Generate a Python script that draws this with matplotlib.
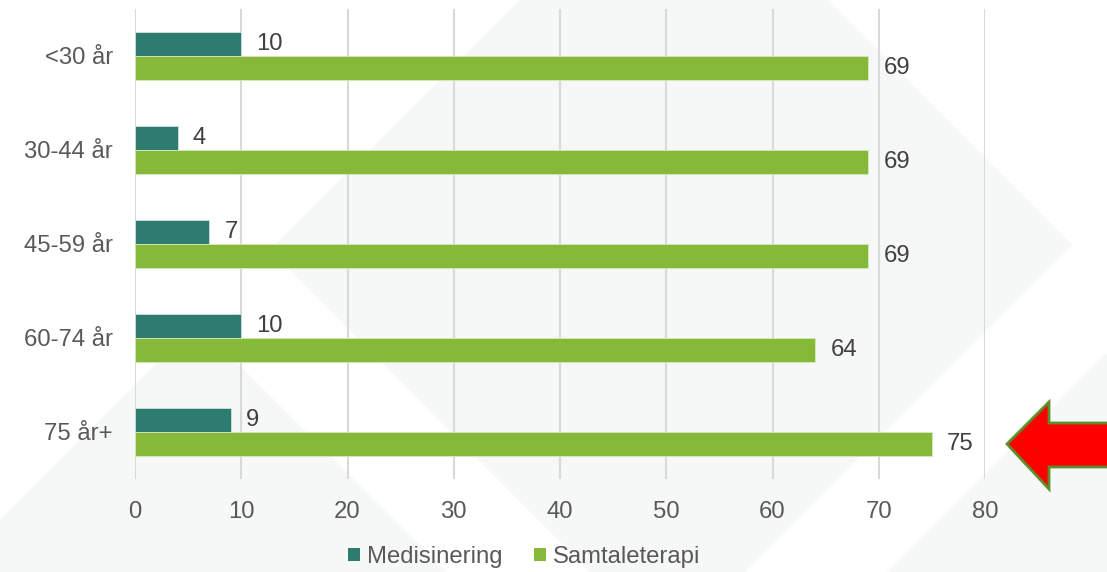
import matplotlib
matplotlib.use("Agg")
import matplotlib.pyplot as plt
import numpy as np
from matplotlib.patches import Polygon, Patch

# ---- data ----
categories = ["<30 år", "30-44 år", "45-59 år", "60-74 år", "75 år+"]
medisinering = [10, 4, 7, 10, 9]
samtaleterapi = [69, 69, 69, 64, 75]
series_names = ["Medisinering", "Samtaleterapi"]
x_ticks = [0, 10, 20, 30, 40, 50, 60, 70, 80]

# ---- style ----
W, H = 1107, 572
C_MED = "#2E7B6F"
C_SAM = "#86B939"
C_TXT = "#595959"
C_LBL = "#404040"
C_BG = "#F6F7F7"
FS = 17.2
plt.rcParams["font.family"] = ["Liberation Sans", "DejaVu Sans"]

fig = plt.figure(figsize=(W / 100, H / 100), dpi=100)
fig.patch.set_facecolor("white")


def px(points):
    return [(x / W, 1 - y / H) for x, y in points]


# background watermark shapes (figure pixel coords)
bg_shapes = [
    [(270, 250), (520, 0), (828, 0), (1072, 245), (745, 572), (590, 572)],
    [(0, 520), (197, 323), (447, 572), (0, 572)],
    [(1107, 352), (1107, 572), (887, 572)],
]
for s in bg_shapes:
    fig.patches.append(Polygon(px(s), closed=True, transform=fig.transFigure,
                               facecolor=C_BG, edgecolor="none", zorder=-10))

ax = fig.add_axes([135 / W, 1 - 479 / H, (985 - 135) / W, (479 - 9) / H])
ax.set_facecolor("none")
ax.set_zorder(1)

y = np.arange(len(categories))
h = 0.26
b1 = ax.barh(y - h / 2, medisinering, height=h, color=C_MED, edgecolor="#cfe3dc",
             linewidth=0.6, zorder=3)
b2 = ax.barh(y + h / 2, samtaleterapi, height=h, color=C_SAM, edgecolor="#d6eabb",
             linewidth=0.6, zorder=3)

for bars, vals in ((b1, medisinering), (b2, samtaleterapi)):
    for rect, v in zip(bars, vals):
        ax.annotate(str(v), xy=(v, rect.get_y() + rect.get_height() / 2),
                    xytext=(11, 0), textcoords="offset points",
                    ha="left", va="center", fontsize=FS, color=C_LBL, zorder=4)

ax.set_xlim(0, 80)
ax.set_ylim(len(categories) - 0.5, -0.5)
ax.set_xticks(x_ticks)
ax.set_yticks(y)
ax.set_yticklabels(categories)
ax.tick_params(axis="both", length=0, labelsize=FS, colors=C_TXT)
ax.tick_params(axis="x", pad=15.5)
ax.tick_params(axis="y", pad=16)
for sp in ax.spines.values():
    sp.set_visible(False)
ax.grid(axis="x", color="#D9D9D9", linewidth=1.5, zorder=1)
ax.set_axisbelow(True)

handles = [Patch(facecolor=C_MED, edgecolor="none"), Patch(facecolor=C_SAM, edgecolor="none")]
fig.legend(handles, series_names, loc="center", bbox_to_anchor=(0.4735, 1 - 557 / H),
           ncol=2, frameon=False, fontsize=FS, labelcolor=C_TXT,
           handlelength=0.5, handleheight=0.5, handletextpad=0.3, columnspacing=1.3)

# red arrow
arrow = [(1007, 444), (1049, 402), (1049, 423), (1110, 423), (1110, 467),
         (1049, 467), (1049, 489)]
fig.patches.append(Polygon(px(arrow), closed=True, transform=fig.transFigure,
                           facecolor="#FF0000", edgecolor="#5E8E2A", linewidth=2,
                           joinstyle="miter", zorder=5))

fig.savefig("out.png", dpi=100, facecolor="white")
